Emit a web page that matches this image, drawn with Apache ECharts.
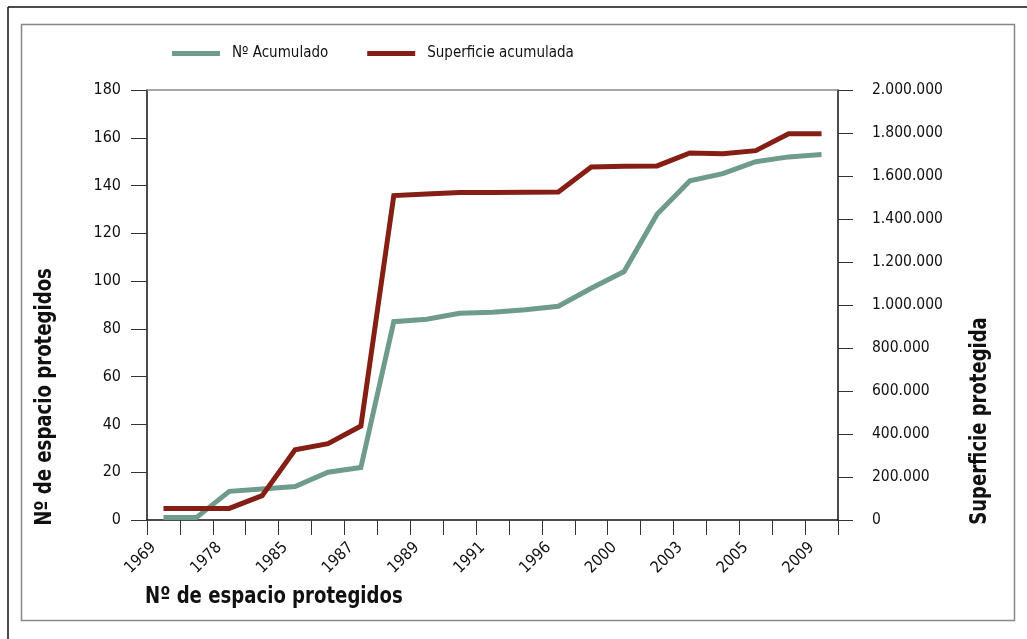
<!DOCTYPE html>
<html>
<head>
<meta charset="utf-8">
<script src="https://cdn.jsdelivr.net/npm/echarts@6/dist/echarts.min.js"></script>
<style>
  html, body { margin: 0; padding: 0; background: #fff; }
  #chart { width: 1027px; height: 639px; }
</style>
</head>
<body>
<div id="chart"></div>
<script>
// años que aparecen en el eje X (uno cada dos marcas)
const years = ['1969', '1978', '1985', '1987', '1989', '1991', '1996', '2000', '2003', '2005', '2009'];

// Nº de espacios protegidos acumulado (eje izquierdo)
const acumulado = [1, 1, 12, 13, 14, 20, 22, 83, 84, 86.5, 87, 88, 89.5, 97, 104, 128, 142, 145, 150, 152, 153];

// superficie protegida acumulada (eje derecho)
const superficie = [54000, 54000, 54000, 113000, 327000, 355000, 437000, 1509000, 1516000, 1523000, 1523000,
  1524000, 1526000, 1642000, 1645000, 1647000, 1707000, 1704000, 1718000, 1796000, 1797000];

const FONT = '"Liberation Sans Narrow", "DejaVu Sans Condensed", Arial, sans-serif';
const GREEN = '#6f9b8c';
const RED = '#851f15';

let steps = acumulado.map((v, i) => String(i + 1));
let yearTicks = years.map((y, i) => i * 2);

const miles = v => String(v).replace(/\B(?=(\d{3})+(?!\d))/g, '.');

let chart = echarts.init(document.getElementById('chart'));

let option = {
  animation: false,
  textStyle: { fontFamily: FONT },
  grid: { left: 147, right: 189, top: 90, bottom: 119 },
  legend: {
    left: 172,
    top: 46,
    padding: 0,
    itemWidth: 48,
    itemHeight: 5,
    itemGap: 39,
    icon: 'rect',
    textStyle: { fontFamily: FONT, fontSize: 15, color: '#111', padding: [0, 0, 0, 7] },
    data: ['Nº Acumulado', 'Superficie acumulada']
  },
  xAxis: [
    {
      type: 'category',
      data: steps,
      boundaryGap: true,
      axisLine: { onZero: false, lineStyle: { color: '#111', width: 1.5 } },
      axisTick: { show: true, interval: 0, length: 15, lineStyle: { color: '#333', width: 1 } },
      axisLabel: { show: false },
      splitLine: { show: false }
    },
    {
      type: 'value',
      min: -0.2,
      max: 20.8,
      position: 'bottom',
      axisLine: { show: false, onZero: false },
      axisTick: { show: false },
      splitLine: { show: false },
      axisLabel: {
        rotate: 45,
        margin: 25,
        fontFamily: FONT,
        fontSize: 16,
        color: '#111',
        customValues: yearTicks,
        formatter: v => years[Math.round(v / 2)] || ''
      }
    },
    {
      type: 'category',
      position: 'top',
      data: steps,
      axisLine: { onZero: false, lineStyle: { color: '#888', width: 1.5 } },
      axisTick: { show: false },
      axisLabel: { show: false }
    }
  ],
  yAxis: [
    {
      type: 'value',
      min: 0,
      max: 180,
      interval: 20,
      position: 'left',
      axisLine: { show: true, onZero: false, lineStyle: { color: '#111', width: 1.5 } },
      axisTick: { show: true, length: 16, lineStyle: { color: '#333', width: 1 } },
      axisLabel: { margin: 26, fontFamily: FONT, fontSize: 16, color: '#111' },
      splitLine: { show: false }
    },
    {
      type: 'value',
      min: 0,
      max: 2000000,
      interval: 200000,
      position: 'right',
      axisLine: { show: true, onZero: false, lineStyle: { color: '#111', width: 1.5 } },
      axisTick: { show: true, length: 15, lineStyle: { color: '#333', width: 1 } },
      axisLabel: { margin: 34, fontFamily: FONT, fontSize: 15.5, color: '#111', formatter: miles },
      splitLine: { show: false }
    }
  ],
  series: [
    {
      name: 'Nº Acumulado',
      type: 'line',
      xAxisIndex: 0,
      yAxisIndex: 0,
      data: acumulado,
      symbol: 'none',
      itemStyle: { color: GREEN },
      lineStyle: { color: GREEN, width: 5, join: 'miter' }
    },
    {
      name: 'Superficie acumulada',
      type: 'line',
      xAxisIndex: 0,
      yAxisIndex: 1,
      data: superficie,
      symbol: 'none',
      itemStyle: { color: RED },
      lineStyle: { color: RED, width: 5, join: 'miter' }
    }
  ],
  graphic: [
    // marco exterior (solo arriba e izquierda) y marco interior gris
    { type: 'line', shape: { x1: 8, y1: 7, x2: 1027, y2: 7 }, style: { stroke: '#111', lineWidth: 1.5 } },
    { type: 'line', shape: { x1: 8, y1: 7, x2: 8, y2: 639 }, style: { stroke: '#111', lineWidth: 1.5 } },
    { type: 'rect', shape: { x: 21.5, y: 24.5, width: 993, height: 596 }, style: { fill: 'none', stroke: '#888', lineWidth: 1.5 } },
    {
      type: 'text',
      x: 45,
      y: 397,
      rotation: Math.PI / 2,
      scaleX: 0.875,
      style: { text: 'Nº de espacio protegidos', font: 'bold 23px ' + FONT, fill: '#111', align: 'center', verticalAlign: 'middle' }
    },
    {
      type: 'text',
      x: 980,
      y: 421,
      rotation: Math.PI / 2,
      scaleX: 0.87,
      style: { text: 'Superficie protegida', font: 'bold 23px ' + FONT, fill: '#111', align: 'center', verticalAlign: 'middle' }
    },
    {
      type: 'text',
      x: 145,
      y: 597,
      scaleX: 0.875,
      style: { text: 'Nº de espacio protegidos', font: 'bold 23px ' + FONT, fill: '#111', align: 'left', verticalAlign: 'middle' }
    }
  ]
};

chart.setOption(option);
</script>
</body>
</html>
